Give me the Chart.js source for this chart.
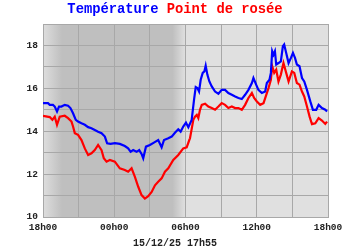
<!DOCTYPE html>
<html>
<head>
<meta charset="utf-8">
<script src="https://cdn.jsdelivr.net/npm/chart.js@4/dist/chart.umd.min.js"></script>
<style>
  html, body { margin: 0; padding: 0; background: #ffffff; }
  #wrap { position: relative; width: 350px; height: 250px; }
  #title { position: absolute; left: 0; top: 3px; width: 350px; text-align: center;
           font: bold 13.8px 'Liberation Mono', 'DejaVu Sans Mono', monospace; line-height: 1; white-space: pre; }
  #date { position: absolute; left: 0; top: 239px; width: 350px; text-align: center;
          font: bold 10px 'Liberation Mono', 'DejaVu Sans Mono', monospace; line-height: 1; color: #222; }
  canvas { position: absolute; left: 0; top: 0; }
</style>
</head>
<body>
<div id="wrap">
  <canvas id="c" width="350" height="250"></canvas>
  <div id="title"><span style="color:#0000ff">Température</span> <span style="color:#ff0000">Point de rosée</span></div>
  <div id="date">15/12/25 17h55</div>
</div>
<script>
// Hours elapsed since 18h00 (14/12) and values in °C
const tempHours = [0.0,0.42,0.57,0.84,0.99,1.18,1.35,1.55,1.83,2.11,2.31,2.53,2.76,2.95,3.24,3.52,3.80,4.08,4.36,4.64,4.93,5.21,5.40,5.69,6.05,6.47,6.89,7.17,7.38,7.59,7.88,8.10,8.30,8.44,8.67,9.00,9.34,9.70,9.99,10.19,10.55,10.84,11.11,11.39,11.59,11.81,12.04,12.24,12.52,12.72,12.86,13.00,13.14,13.28,13.45,13.59,13.70,13.84,14.01,14.21,14.49,14.77,15.05,15.33,15.61,15.90,16.18,16.46,16.74,17.02,17.30,17.59,17.72,17.95,18.14,18.43,18.71,18.85,19.07,19.19,19.30,19.41,19.53,19.64,19.83,20.03,20.20,20.31,20.48,20.68,20.88,21.05,21.22,21.38,21.60,21.81,22.00,22.23,22.51,22.73,23.01,23.21,23.49,23.77,23.92];
const tempValues = [15.31,15.31,15.23,15.23,15.15,14.92,15.15,15.15,15.23,15.19,15.08,14.84,14.53,14.45,14.37,14.30,14.19,14.14,14.06,13.98,13.91,13.75,13.44,13.41,13.44,13.41,13.31,13.20,13.04,13.12,13.04,13.12,12.94,12.74,13.28,13.36,13.47,13.59,13.25,13.59,13.67,13.75,13.93,14.09,13.98,14.22,14.40,14.19,14.53,15.47,16.06,16.01,15.85,16.40,16.72,16.79,17.06,16.64,16.32,16.09,15.85,15.75,15.93,15.93,15.78,15.70,15.62,15.55,15.50,15.70,15.93,16.25,16.48,16.17,15.93,15.78,15.85,16.25,16.40,16.72,17.73,17.57,17.73,17.11,17.18,17.26,17.96,18.04,17.65,17.18,17.42,17.65,17.42,17.11,17.03,16.48,16.32,15.93,15.39,15.00,15.00,15.23,15.08,15.00,14.92];

const dewHours = [0.0,0.57,0.79,0.99,1.18,1.41,1.83,2.11,2.40,2.53,2.68,2.95,3.24,3.52,3.80,4.08,4.36,4.64,4.93,5.12,5.35,5.63,6.05,6.47,6.89,7.17,7.46,7.74,8.02,8.30,8.58,8.86,9.15,9.43,9.70,9.99,10.27,10.55,10.97,11.39,11.81,12.10,12.32,12.38,12.66,12.80,12.95,13.08,13.22,13.37,13.65,13.92,14.21,14.49,14.77,15.05,15.33,15.61,15.90,16.18,16.46,16.74,17.02,17.30,17.59,17.78,18.01,18.29,18.57,18.85,18.99,19.19,19.30,19.47,19.64,19.83,20.03,20.25,20.48,20.68,20.96,21.16,21.38,21.60,21.81,22.00,22.23,22.45,22.65,22.93,23.21,23.49,23.77,23.92];
const dewValues = [14.72,14.66,14.53,14.68,14.30,14.68,14.72,14.61,14.45,14.22,13.91,13.83,13.59,13.20,12.89,12.97,13.12,13.36,13.12,12.74,12.58,12.66,12.58,12.27,12.19,12.11,12.27,11.87,11.41,11.02,10.86,10.97,11.17,11.48,11.64,11.80,12.11,12.27,12.66,12.89,13.20,13.25,13.59,13.67,14.53,14.68,14.76,14.61,15.00,15.23,15.28,15.15,15.08,15.00,15.15,15.31,15.23,15.08,15.15,15.08,15.08,15.00,15.23,15.55,15.78,15.55,15.39,15.23,15.31,15.78,16.01,16.40,17.03,16.72,16.87,16.32,16.64,17.18,16.72,16.32,16.79,16.72,16.25,16.17,15.85,15.62,15.15,14.68,14.33,14.37,14.61,14.50,14.34,14.45];

const tickLabels = ['18h00','00h00','06h00','12h00','18h00'];
const seriesNames = ['Température','Point de rosée'];

const toPoints = (hs, vs) => hs.map((h, i) => ({ x: h, y: vs[i] }));

const nightStart = 0, nightEnd = 12;

const bgPlugin = {
  id: 'bg',
  beforeDraw(chart) {
    const { ctx, chartArea: a, scales: { x } } = chart;
    ctx.save();
    ctx.fillStyle = '#e0e0e0';
    ctx.fillRect(a.left, a.top, a.right - a.left, a.bottom - a.top);
    const x0 = x.getPixelForValue(nightStart);
    const x1 = x.getPixelForValue(nightEnd);
    const g = ctx.createLinearGradient(x0, 0, x1, 0);
    const w = x1 - x0;
    g.addColorStop(0, '#dedede');
    g.addColorStop(19 / w, '#bfbfbf');
    g.addColorStop((w - 13) / w, '#bfbfbf');
    g.addColorStop(1, '#e0e0e0');
    ctx.fillStyle = g;
    ctx.fillRect(x0, a.top, w, a.bottom - a.top);
    ctx.restore();
  }
};

const tickFont = { family: "'Liberation Mono', 'DejaVu Sans Mono', monospace", size: 9.5, weight: 'bold' };

new Chart(document.getElementById('c'), {
  type: 'line',
  data: {
    datasets: [
      { label: seriesNames[0], data: toPoints(tempHours, tempValues), borderColor: '#0000ff', borderWidth: 2.2, pointRadius: 0, tension: 0, fill: false },
      { label: seriesNames[1], data: toPoints(dewHours, dewValues), borderColor: '#ff0000', borderWidth: 2.2, pointRadius: 0, tension: 0, fill: false }
    ]
  },
  options: {
    responsive: false,
    animation: false,
    events: [],
    layout: { padding: { top: 24, right: 22, bottom: 0, left: 0 } },
    plugins: { legend: { display: false }, title: { display: false }, tooltip: { enabled: false } },
    scales: {
      x: {
        type: 'linear', min: 0, max: 24,
        afterFit(s) { s.height = 33; },
        grid: { color: '#a8a8a8', lineWidth: 1, drawTicks: false },
        border: { display: true, color: '#a8a8a8' },
        ticks: {
          stepSize: 3, autoSkip: false, maxRotation: 0, padding: 5, color: '#222', font: tickFont,
          callback: v => (v % 6 === 0 ? tickLabels[v / 6] : '')
        }
      },
      y: {
        min: 10, max: 19,
        afterFit(s) { s.width = 43; },
        grid: { color: '#a8a8a8', lineWidth: 1, drawTicks: false },
        border: { display: true, color: '#a8a8a8' },
        ticks: {
          stepSize: 1, autoSkip: false, padding: 5, color: '#222', font: tickFont,
          callback: v => (v % 2 === 0 ? String(v) : '')
        }
      }
    }
  },
  plugins: [bgPlugin]
});
</script>
</body>
</html>
